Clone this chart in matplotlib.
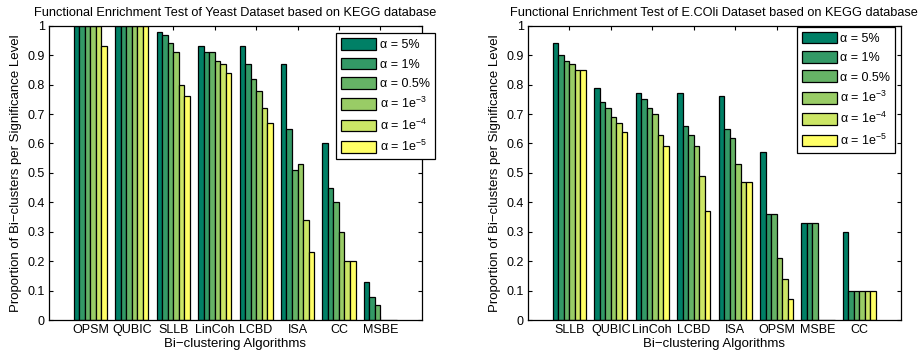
import matplotlib
matplotlib.use('Agg')
import matplotlib.pyplot as plt
import numpy as np

plt.rcParams['font.family'] = ['Liberation Sans', 'DejaVu Sans']
plt.rcParams['mathtext.fontset'] = 'custom'
plt.rcParams['mathtext.rm'] = 'Liberation Sans'
plt.rcParams['mathtext.it'] = 'Liberation Sans:italic'
plt.rcParams['mathtext.bf'] = 'Liberation Sans:bold'

levels = ['α = 5%', 'α = 1%', 'α = 0.5%', 'α = 1e$^{-3}$', 'α = 1e$^{-4}$', 'α = 1e$^{-5}$']
colors = ['#008066', '#339966', '#66b366', '#99cc66', '#cce666', '#ffff66']

yeast_algs = ['OPSM', 'QUBIC', 'SLLB', 'LinCoh', 'LCBD', 'ISA', 'CC', 'MSBE']
yeast_vals = [
    [1.00, 1.00, 1.00, 1.00, 1.00, 0.93],
    [1.00, 1.00, 1.00, 1.00, 1.00, 1.00],
    [0.98, 0.97, 0.94, 0.91, 0.80, 0.76],
    [0.93, 0.91, 0.91, 0.88, 0.87, 0.84],
    [0.93, 0.87, 0.82, 0.78, 0.72, 0.67],
    [0.87, 0.65, 0.51, 0.53, 0.34, 0.23],
    [0.60, 0.45, 0.40, 0.30, 0.20, 0.20],
    [0.13, 0.08, 0.05, 0.00, 0.00, 0.00],
]

ecoli_algs = ['SLLB', 'QUBIC', 'LinCoh', 'LCBD', 'ISA', 'OPSM', 'MSBE', 'CC']
ecoli_vals = [
    [0.94, 0.90, 0.88, 0.87, 0.85, 0.85],
    [0.79, 0.74, 0.72, 0.69, 0.67, 0.64],
    [0.77, 0.75, 0.72, 0.70, 0.63, 0.59],
    [0.77, 0.66, 0.63, 0.59, 0.49, 0.37],
    [0.76, 0.65, 0.62, 0.53, 0.47, 0.47],
    [0.57, 0.36, 0.36, 0.21, 0.14, 0.07],
    [0.33, 0.33, 0.33, 0.00, 0.00, 0.00],
    [0.30, 0.10, 0.10, 0.10, 0.10, 0.10],
]

fig = plt.figure(figsize=(9.23, 3.58), dpi=100)
ax1 = fig.add_axes([0.053, 0.106, 0.404, 0.822])
ax2 = fig.add_axes([0.572, 0.106, 0.404, 0.822])


def grouped_bars(ax, algs, vals, title, legend_anchor):
    vals = np.array(vals)
    x = np.arange(1, len(algs) + 1)
    n = vals.shape[1]
    w = 0.8 / n
    for j in range(n):
        ax.bar(x + (j - (n - 1) / 2) * w, vals[:, j], width=w, color=colors[j],
               edgecolor='black', linewidth=0.9, label=levels[j], zorder=2)
    ax.set_xlim(0, 9)
    ax.set_ylim(0, 1)
    ax.set_xticks(x)
    ax.set_xticklabels(algs)
    ax.set_yticks(np.arange(0, 1.01, 0.1))
    ax.set_yticklabels(['0', '0.1', '0.2', '0.3', '0.4', '0.5', '0.6', '0.7', '0.8', '0.9', '1'])
    ax.tick_params(direction='in', top=True, right=True, length=3, labelsize=9, pad=3)
    for s in ax.spines.values():
        s.set_linewidth(0.9)
    ax.set_title(title, fontsize=9.2, pad=7)
    ax.set_xlabel('Bi−clustering Algorithms', fontsize=9.5, labelpad=1)
    ax.set_ylabel('Proportion of Bi−clusters per Significance Level', fontsize=9.5, labelpad=4)
    leg = ax.legend(loc='upper right', bbox_to_anchor=legend_anchor, bbox_transform=fig.transFigure,
                    fancybox=False, framealpha=1, edgecolor='black', fontsize=9,
                    handlelength=2.8, handleheight=1.05, labelspacing=0.5,
                    handletextpad=0.3, borderpad=0.4, borderaxespad=0)
    leg.get_frame().set_linewidth(0.9)


grouped_bars(ax1, yeast_algs, yeast_vals,
             'Functional Enrichment Test of Yeast Dataset based on KEGG database', (0.471, 0.907))
grouped_bars(ax2, ecoli_algs, ecoli_vals,
             'Functional Enrichment Test of E.COli Dataset based on KEGG database', (0.970, 0.925))

fig.savefig('out.png', dpi=100)
